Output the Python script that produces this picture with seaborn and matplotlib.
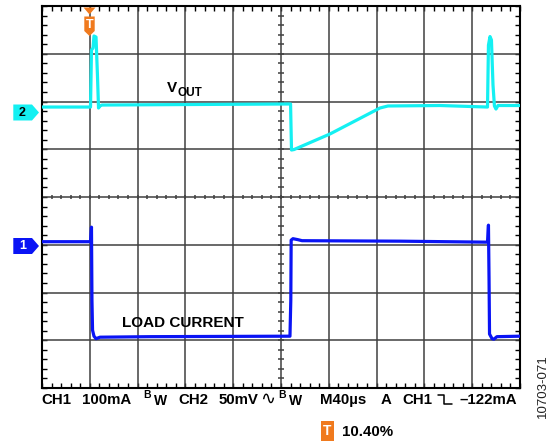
import numpy as np
import pandas as pd
import matplotlib
matplotlib.use("Agg")
import matplotlib.pyplot as plt
import seaborn as sns
from matplotlib.patches import Polygon
from matplotlib.lines import Line2D

# Scope settings
TIME_PER_DIV_US = 40
CH1_MA_PER_DIV = 100
CH2_MV_PER_DIV = 50
CH1_REF_DIV = -1.03   # ground marker positions on the graticule (divisions)
CH2_REF_DIV = 1.78

# CH2: output voltage (AC coupled), mV versus time in us
vout_t_us = [0, 40.6, 41.4, 42.7, 43.5, 45.2, 46.4, 47.3, 48.5, 50.2, 132.2,
             208.0, 208.4, 208.8, 210.9, 241.0, 282.8, 289.5, 333.0,
             372.8, 373.6, 374.9, 376.1, 377.4, 378.6, 379.9, 381.6, 400]
vout_mv = [5.2, 5.2, 65, 67, 79.6, 78.5, 38.7, 4.2, 6.3, 7.3, 7.9,
           8.4, -16.8, -39.8, -39.3, -23.0, 4.2, 6.3, 6.8,
           5.2, 70, 79, 75.4, 28.3, 6.3, 3.1, 6.8, 6.8]

# CH1: load current, mA versus time in us
iload_t_us = [0, 40.6, 41.4, 41.8, 42.3, 43.5, 45.2, 48.5, 90.4, 207.5,
              208.2, 208.5, 210.0, 214.2, 217.6, 299.6, 372.8,
              373.6, 374.1, 374.5, 376.6, 378.2, 380.7, 400]
iload_ma = [9.4, 9.4, 39.8, -113, -176, -188.5, -193.7, -190.6, -189.5, -188.5,
            -113, 12.6, 15.7, 13.6, 11.5, 10.5, 8.4,
            44, -71, -184, -193.7, -194.7, -189.5, -188.5]

CYAN = "#14F0F2"
BLUE = "#0A14F5"
ORANGE = "#F07A1E"
GRID = "#404040"

W, H = 549, 447

def fx(px):
    return px / W

def fy(py):
    return 1 - py / H

sns.set_style("white")
plt.rcParams["font.family"] = ["Liberation Sans", "DejaVu Sans"]

fig = plt.figure(figsize=(W / 100, H / 100), dpi=100)
ax = fig.add_axes([fx(42), fy(388), fx(520) - fx(42), fy(6) - fy(388)])

df = pd.concat([
    pd.DataFrame({"t": vout_t_us,
                  "div": CH2_REF_DIV + np.array(vout_mv) / CH2_MV_PER_DIV,
                  "channel": "CH2"}),
    pd.DataFrame({"t": iload_t_us,
                  "div": CH1_REF_DIV + np.array(iload_ma) / CH1_MA_PER_DIV,
                  "channel": "CH1"}),
])

xmax = 10 * TIME_PER_DIV_US
ax.set_xlim(0, xmax)
ax.set_ylim(-4, 4)

# Graticule
for i in range(1, 10):
    ax.axvline(i * TIME_PER_DIV_US, color=GRID, lw=1.1, zorder=1)
for j in range(-3, 4):
    ax.axhline(j, color=GRID, lw=1.1, zorder=1)

minor_x = np.arange(0, xmax + 0.1, TIME_PER_DIV_US / 5)
minor_y = np.arange(-4, 4.01, 0.2)
ax.vlines(minor_x, -0.05, 0.05, color=GRID, lw=1.1, zorder=1)
ax.hlines(minor_y, xmax / 2 - 2.1, xmax / 2 + 2.1, color=GRID, lw=1.1, zorder=1)

ax.set_xticks(minor_x)
ax.set_yticks(minor_y)
ax.tick_params(axis="both", which="both", direction="in", length=3.6, width=1.0,
               color="black", top=True, bottom=True, left=True, right=True,
               labelbottom=False, labelleft=False)
for sp in ax.spines.values():
    sp.set_color("black")
    sp.set_linewidth(1.5)

sns.lineplot(data=df, x="t", y="div", hue="channel",
             palette={"CH2": CYAN, "CH1": BLUE}, estimator=None, sort=False,
             lw=2.3, legend=False, ax=ax, zorder=3)
ax.set_xlabel("")
ax.set_ylabel("")

# Trace labels
ax_text_kw = dict(color="black", fontweight="bold", va="baseline", ha="left")
fig.text(fx(167), fy(92), "V", fontsize=11, **ax_text_kw)
fig.text(fx(178), fy(96.5), "OUT", fontsize=8.5, **ax_text_kw)
fig.text(fx(122), fy(327), "LOAD CURRENT", fontsize=11, **ax_text_kw)

# Channel ground markers
def marker(y, label, fc, tc):
    pts = [(13.3, y - 8), (32, y - 8), (39, y), (32, y + 8), (13.3, y + 8)]
    fig.add_artist(Polygon([(fx(a), fy(b)) for a, b in pts], closed=True,
                           transform=fig.transFigure, fc=fc, ec="none"))
    fig.text(fx(22.5), fy(y), label, color=tc, fontsize=9, fontweight="bold",
             ha="center", va="center")

marker(112.5, "2", CYAN, "black")
marker(246, "1", BLUE, "white")

# Trigger position marker
tri = [(83.5, 7.5), (95.5, 7.5), (89.5, 14.5)]
fig.add_artist(Polygon([(fx(a), fy(b)) for a, b in tri], closed=True,
                       transform=fig.transFigure, fc=ORANGE, ec="none", zorder=5))
pent = [(84.3, 16.5), (94.7, 16.5), (94.7, 31), (89.5, 36), (84.3, 31)]
fig.add_artist(Polygon([(fx(a), fy(b)) for a, b in pent], closed=True,
                       transform=fig.transFigure, fc=ORANGE, ec="none", zorder=5))
fig.text(fx(89.5), fy(24.5), "T", color="white", fontsize=9, fontweight="bold",
         ha="center", va="center", zorder=6)

# Scope settings readout
b1 = fy(404)
kw = dict(color="black", fontweight="bold", va="baseline", ha="left")
fig.text(fx(41), b1, "CH1", fontsize=10.8, **kw)
fig.text(fx(82), b1, "100mA", fontsize=10.8, **kw)
fig.text(fx(143.5), fy(398.5), "B", fontsize=7.5, **kw)
fig.text(fx(153.5), fy(405), "W", fontsize=10, **kw)
fig.text(fx(178), b1, "CH2", fontsize=10.8, **kw)
fig.text(fx(219), b1, "50mV", fontsize=10.8, **kw)
fig.text(fx(260.5), fy(404), "\u223f", fontsize=13, color="black",
         family=["DejaVu Sans"], va="baseline", ha="left")
fig.text(fx(278), fy(398.5), "B", fontsize=7.5, **kw)
fig.text(fx(288.5), fy(405), "W", fontsize=10, **kw)
fig.text(fx(320), b1, "M40\u00b5s", fontsize=10.8, **kw)
fig.text(fx(381), b1, "A", fontsize=10.8, **kw)
fig.text(fx(402), b1, "CH1", fontsize=10.8, **kw)
edge_x = [437.5, 444, 444, 451.5]
edge_y = [394.5, 394.5, 404, 404]
fig.add_artist(Line2D([fx(a) for a in edge_x], [fy(b) for b in edge_y],
                      transform=fig.transFigure, color="black", lw=1.1))
fig.text(fx(460), b1, "\u2013122mA", fontsize=10.8, **kw)

fig.text(fx(327.5), fy(431), "T", color="white", fontsize=10, fontweight="bold",
         ha="center", va="center",
         bbox=dict(boxstyle="square,pad=0.2", fc=ORANGE, ec="none"))
fig.text(fx(342), fy(436.5), "10.40%", fontsize=10.8, **kw)

fig.text(fx(543), fy(386), "10703-071", fontsize=9.5, color="#222222",
         rotation=90, ha="center", va="center")

fig.savefig("out.png", dpi=100)
